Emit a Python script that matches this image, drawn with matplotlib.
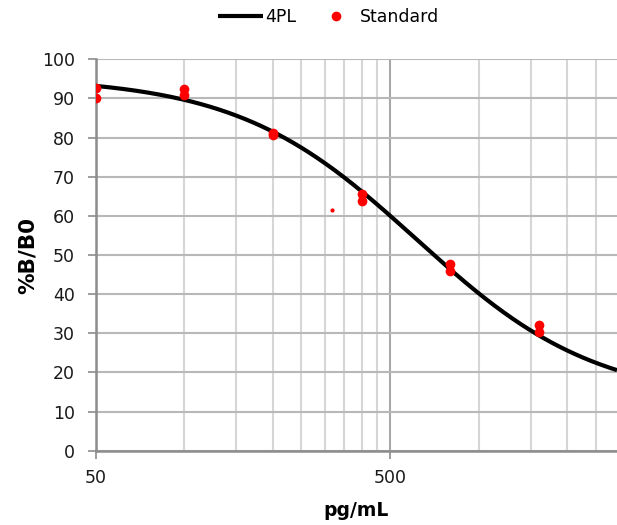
import numpy as np
import matplotlib
matplotlib.use("Agg")
import matplotlib.pyplot as plt
from matplotlib.ticker import FixedLocator, NullFormatter, FixedFormatter

# Standard points (pg/mL, %B/B0)
std_x = [50, 50, 100, 100, 200, 200, 400, 400, 800, 800, 1600, 1600]
std_y = [92.8, 90.0, 92.5, 90.8, 81.2, 80.6, 65.6, 63.7, 47.6, 45.8, 32.0, 30.4]

# Single small sample point
sample_x = [318]
sample_y = [61.5]

# 4PL parameters
pl_top = 95.5
pl_bottom = 12.5
pl_slope = 1.42
pl_ec50 = 615

x_major = [50, 500]
x_major_labels = ["50", "500"]
x_minor = [100, 150, 200, 250, 300, 350, 400, 450, 1000, 1500, 2000, 2500]
y_ticks = list(range(0, 101, 10))

fig = plt.figure(figsize=(6.17, 5.25), dpi=100)
ax = fig.add_axes([0.155, 0.1415, 0.845, 0.7455])

xs = np.logspace(np.log10(50), np.log10(2950), 400)
ys = pl_bottom + (pl_top - pl_bottom) / (1 + (xs / pl_ec50) ** pl_slope)

ax.set_xscale("log")
ax.set_xlim(50, 2950)
ax.set_ylim(0, 100)

ax.xaxis.set_major_locator(FixedLocator(x_major))
ax.xaxis.set_major_formatter(FixedFormatter(x_major_labels))
ax.xaxis.set_minor_locator(FixedLocator(x_minor))
ax.xaxis.set_minor_formatter(NullFormatter())
ax.set_yticks(y_ticks)

ax.grid(True, which="major", axis="y", color="#b8b8b8", linewidth=1.5, zorder=0)
ax.grid(True, which="major", axis="x", color="#a8a8a8", linewidth=1.5, zorder=0)
ax.grid(True, which="minor", axis="x", color="#d6d6d6", linewidth=1.5, zorder=0)
ax.set_axisbelow(True)

ax.plot(xs, ys, color="black", linewidth=3.0, label="4PL", zorder=3, solid_capstyle="butt")
ax.plot(std_x, std_y, linestyle="none", marker="o", markersize=7, color="#ff0000",
        markeredgewidth=0, label="Standard", zorder=4)
ax.plot(sample_x, sample_y, linestyle="none", marker="o", markersize=3, color="#ff0000",
        markeredgewidth=0, zorder=4)

for s in ["top", "right"]:
    ax.spines[s].set_visible(False)
for s in ["left", "bottom"]:
    ax.spines[s].set_color("#8c8c8c")
    ax.spines[s].set_linewidth(1.8)

ax.tick_params(axis="both", which="major", color="#8c8c8c", width=1.2, length=6,
               labelsize=12.5, labelcolor="#1a1a1a")
ax.tick_params(axis="y", which="major", pad=9)
ax.tick_params(axis="x", which="minor", length=0)
ax.tick_params(axis="x", which="major", pad=7)

ax.set_ylabel("%B/B0", fontsize=15.5, fontweight="bold", labelpad=3)
ax.set_xlabel("pg/mL", fontsize=13.5, fontweight="bold", labelpad=10)

leg = fig.legend(loc="center", bbox_to_anchor=(0.533, 0.967), ncol=2, frameon=False,
                 fontsize=12.5, handlelength=2.6, handletextpad=0.1, columnspacing=1.0,
                 markerscale=1.0)

fig.savefig("out.png", dpi=100)
